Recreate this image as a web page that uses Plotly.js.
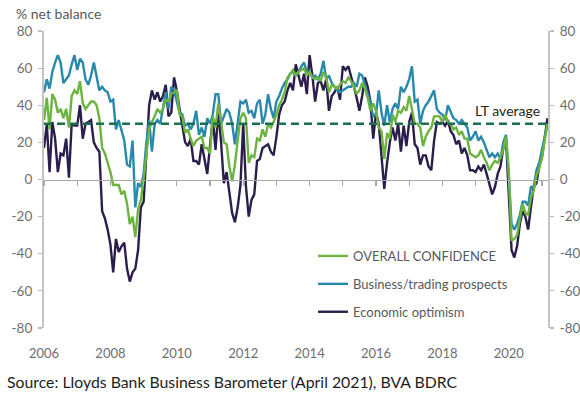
<!DOCTYPE html>
<html><head><meta charset="utf-8">
<script src="https://cdn.plot.ly/plotly-3.0.1.min.js"></script>
<style>html,body{margin:0;padding:0;background:#fff;} #chart{width:580px;height:398px;}</style>
</head><body><div id="chart"></div>
<script>
// Monthly series, first value = January 2006
const START_YEAR = 2006;

const overallConfidence = [32,44,27,46,43,36,38,33,38,28,
45,48,46,53,41,38,40,42,42,40,
33,17,14,9,4,-3,-3,-3,-8,-6,
-13,-24,-20,-31,-16,-11,0,15,27,31,
34,38,36,38,43,42,46,47,48,35,
34,25,27,22,18,21,22,23,17,17,
14,34,28,41,31,20,19,7,-1,8,
21,33,36,33,9,13,12,22,21,27,
23,30,28,31,35,40,43,47,55,57,
59,56,58,59,60,56,58,55,54,55,
53,58,55,47,51,50,49,51,53,52,
55,53,50,46,48,52,49,44,37,41,
37,28,26,11,25,22,35,31,37,36,
39,37,45,38,30,30,28,18,23,26,
28,34,34,34,31,35,31,30,27,28,
24,26,22,22,14,13,12,13,16,12,
9,5,8,10,9,12,16,23,5,-33,
-32,-30,-21,-13,-18,-19,-10,-6,2,6,
12,20,30];

const businessProspects = [47,54,49,58,63,67,63,52,54,56,
62,67,59,65,63,54,51,56,63,56,
48,50,48,47,42,43,27,32,26,21,
8,7,21,-15,-2,-4,3,20,32,15,
30,32,30,38,47,38,50,48,42,36,
35,29,30,27,30,37,24,28,23,33,
30,35,46,46,30,34,38,36,30,19,
31,42,41,43,36,37,33,41,43,30,
35,46,38,33,42,45,49,52,54,57,
58,56,58,61,63,58,58,55,56,54,
57,64,54,56,52,50,48,47,48,49,
50,50,52,50,57,56,51,45,41,34,
35,48,36,29,40,31,38,41,38,50,
47,50,54,61,42,43,30,37,40,42,
45,48,38,36,35,32,40,36,33,32,
30,32,30,28,21,23,26,21,23,20,
16,12,14,12,14,11,20,24,2,-24,
-27,-24,-19,-12,-12,-14,-4,-4,5,9,
16,23,30];

const economicOptimism = [17,30,4,31,22,4,14,13,22,1,
30,29,29,40,22,30,31,32,20,17,
15,-17,-21,-27,-35,-50,-32,-39,-36,-34,
-48,-55,-50,-48,-38,-15,-12,15,40,48,
43,47,42,45,51,34,36,55,48,38,
30,20,18,22,10,10,8,19,11,3,
18,33,16,37,20,-2,4,-8,-18,-23,
-15,-3,30,-4,-20,-11,-8,10,11,17,
18,19,15,13,23,35,40,42,48,52,
48,62,56,50,57,46,67,56,42,52,
53,48,54,37,45,47,50,43,61,59,
61,56,50,44,37,45,55,50,42,22,
36,30,11,-5,9,20,28,21,30,15,
29,18,31,36,19,17,8,13,13,7,
5,21,31,30,31,29,32,26,24,19,
21,14,17,13,5,5,4,7,5,8,
3,-2,-8,-4,3,7,17,22,-10,-38,
-42,-36,-24,-17,-20,-27,-15,-4,-2,7,
12,23,33];

const seriesNames = ['OVERALL CONFIDENCE', 'Business/trading prospects', 'Economic optimism'];
const ltAverage = 30;
const ltLabel = 'LT average';
const xLabelYears = [2006, 2008, 2010, 2012, 2014, 2016, 2018, 2020];
const xLabelText = ['2006', '2008', '2010', '2012', '2014', '2016', '2018', '2020'];
const yTickVals = [-80, -60, -40, -20, 0, 20, 40, 60, 80];
const yTickText = ['-80', '-60', '-40', '-20', '0', '20', '40', '60', '80'];
const yAxisTitle = '% net balance';
const sourceText = 'Source: Lloyds Bank Business Barometer (April 2021), BVA BDRC';

const months = overallConfidence.map((_, i) => START_YEAR + i / 12);
const yearTicks = [];
for (let y = START_YEAR; y <= START_YEAR + Math.floor((months.length - 1) / 12); y++) yearTicks.push(y);

const FONT = 'Lato, "Open Sans", sans-serif';
const GREEN = '#6cb43f', BLUE = '#2889ad', PURPLE = '#2c1e4c', DASH = '#1b6e50';
const xRange = [START_YEAR - 0.001, months[months.length - 1] + 0.015];

const traces = [
  {x: months, y: economicOptimism, name: seriesNames[2], type: 'scatter', mode: 'lines',
   line: {color: PURPLE, width: 2.4}, legendgroup: 'c', legendrank: 3, hoverinfo: 'skip'},
  {x: months, y: businessProspects, name: seriesNames[1], type: 'scatter', mode: 'lines',
   line: {color: BLUE, width: 2.4}, legendgroup: 'b', legendrank: 2, hoverinfo: 'skip'},
  {x: months, y: overallConfidence, name: seriesNames[0], type: 'scatter', mode: 'lines',
   line: {color: GREEN, width: 2.4}, legendgroup: 'a', legendrank: 1, hoverinfo: 'skip'},
  {x: [], y: [], xaxis: 'x', yaxis: 'y2', showlegend: false, hoverinfo: 'skip', type: 'scatter'},
  {x: [], y: [], xaxis: 'x2', yaxis: 'y', showlegend: false, hoverinfo: 'skip', type: 'scatter'}
];

const yCommon = {
  range: [-80, 80], tickvals: yTickVals, ticktext: yTickText,
  ticks: 'outside', ticklen: 4, tickwidth: 1.2, tickcolor: '#bdbdbd',
  showline: true, linecolor: '#c4c4c4', linewidth: 2,
  showgrid: false, zeroline: false, fixedrange: true,
  tickfont: {family: FONT, size: 13.5, color: '#6d6e71'}, ticklabelstandoff: 3
};

const layout = {
  width: 580, height: 398,
  margin: {l: 44, r: 32, t: 31, b: 70},
  paper_bgcolor: '#ffffff', plot_bgcolor: '#ffffff',
  font: {family: FONT, color: '#58595b'},
  title: {text: yAxisTitle, xref: 'container', yref: 'container', x: 16 / 580, xanchor: 'left',
          y: 1 - 14 / 398, yanchor: 'middle', font: {family: FONT, size: 14, color: '#58595b'}},
  xaxis: {range: xRange, tickvals: xLabelYears, ticktext: xLabelText, ticks: '',
          showline: false, showgrid: false, zeroline: false, fixedrange: true,
          ticklabelstandoff: 16, tickfont: {family: FONT, size: 13, color: '#6d6e71'}},
  xaxis2: {overlaying: 'x', anchor: 'free', position: 0.5, range: xRange,
           tickvals: yearTicks, ticks: 'outside', ticklen: 5, tickwidth: 1.2, tickcolor: '#a8a8a8',
           showticklabels: false, showline: true, linecolor: '#a8a8a8', linewidth: 1.5,
           showgrid: false, zeroline: false, fixedrange: true},
  yaxis: Object.assign({}, yCommon, {side: 'left'}),
  yaxis2: Object.assign({}, yCommon, {side: 'right', overlaying: 'y', anchor: 'x'}),
  shapes: [{type: 'line', xref: 'paper', x0: 0, x1: 1, yref: 'y', y0: ltAverage, y1: ltAverage,
            line: {color: DASH, width: 2.5, dash: '8px,5px'}, layer: 'above'}],
  annotations: [
    {text: ltLabel, xref: 'paper', x: 0.988, xanchor: 'right', yref: 'y', y: ltAverage,
     yanchor: 'bottom', yshift: 3, showarrow: false, font: {family: FONT, size: 14, color: '#231f20'}},
    {text: sourceText, xref: 'paper', x: (5 - 44) / 504, xanchor: 'left', yref: 'paper',
     y: (328 - 381) / 297, yanchor: 'middle', showarrow: false,
     font: {family: FONT, size: 15.8, color: '#1d1d1b'}}
  ],
  legend: {x: (313 - 44) / 504, xanchor: 'left', y: (328 - 241) / 297, yanchor: 'top',
           traceorder: 'grouped', tracegroupgap: 8, bgcolor: 'rgba(0,0,0,0)',
           font: {family: FONT, size: 13, color: '#58595b'}, itemwidth: 30},
  showlegend: true
};

Plotly.newPlot('chart', traces, layout, {staticPlot: true, displayModeBar: false});
</script>
</body></html>
